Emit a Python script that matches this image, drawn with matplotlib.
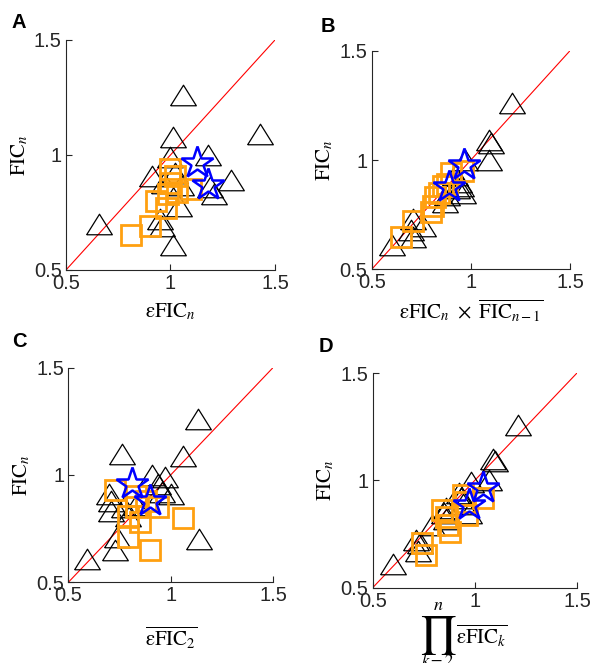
import numpy as np
import matplotlib
matplotlib.use('Agg')
import matplotlib.pyplot as plt

plt.rcParams['mathtext.fontset'] = 'stix'
plt.rcParams['font.family'] = ['Liberation Sans', 'DejaVu Sans']

# FIC_n (y) against the four predictors (x); one set per panel
tri_A = [(0.66, 0.70), (1.06, 1.26), (1.01, 1.08), (1.43, 1.09), (1.00, 0.99), (1.18, 1.00),
         (0.91, 0.91), (1.29, 0.89), (1.02, 0.92), (1.21, 0.83), (1.19, 0.86), (1.04, 0.78),
         (0.95, 0.72), (0.96, 0.69), (1.01, 0.61), (0.97, 0.88), (1.05, 0.87)]
sq_A = [(0.81, 0.65), (0.90, 0.69), (0.93, 0.80), (0.98, 0.77), (0.99, 0.83), (1.00, 0.88),
        (1.00, 0.94), (1.02, 0.91), (1.10, 0.85), (1.03, 0.84)]
star_A = [(1.125, 0.965), (1.18, 0.87)]

tri_B = [(1.21, 1.26), (1.09, 1.09), (1.10, 1.08), (1.09, 1.00), (0.97, 1.00), (0.60, 0.61),
         (0.70, 0.68), (0.76, 0.70), (0.71, 0.73), (0.71, 0.65), (0.94, 0.90), (0.95, 0.88),
         (0.87, 0.81), (0.88, 0.84), (0.96, 0.85), (0.92, 0.93), (0.93, 0.87)]
sq_B = [(0.65, 0.65), (0.71, 0.72), (0.80, 0.76), (0.81, 0.79), (0.82, 0.83), (0.84, 0.85),
        (0.86, 0.88), (0.90, 0.94), (0.96, 0.95), (0.88, 0.89)]
star_B = [(0.965, 0.975), (0.89, 0.875)]

tri_C = [(1.135, 1.26), (0.76, 1.10), (1.06, 1.09), (0.59, 0.61), (1.14, 0.70), (0.91, 1.00),
         (0.97, 0.99), (0.94, 0.96), (1.00, 0.91), (0.96, 0.92), (0.70, 0.91), (0.71, 0.88),
         (0.71, 0.83), (0.77, 0.85), (0.83, 0.86), (0.74, 0.71), (0.73, 0.65), (0.79, 0.81)]
sq_C = [(0.73, 0.93), (0.83, 0.90), (0.94, 0.85), (1.06, 0.80), (0.85, 0.78), (0.79, 0.81),
        (0.79, 0.71), (0.90, 0.65), (0.83, 0.85), (0.88, 0.88)]
star_C = [(0.81, 0.96), (0.90, 0.88)]

tri_D = [(1.21, 1.26), (1.09, 1.10), (1.10, 1.09), (1.07, 1.00), (0.98, 0.99), (0.60, 0.61),
         (0.71, 0.72), (0.73, 0.71), (0.72, 0.67), (0.93, 0.92), (0.94, 0.89), (0.86, 0.87),
         (0.85, 0.85), (0.86, 0.82), (0.97, 0.85), (0.92, 0.94), (0.79, 0.79)]
sq_D = [(0.74, 0.71), (0.76, 0.65), (0.84, 0.86), (0.86, 0.83), (0.87, 0.79), (0.88, 0.76),
        (0.94, 0.93), (0.96, 0.84), (1.04, 0.92), (0.95, 0.90)]
star_D = [(1.04, 0.965), (0.97, 0.885)]

panels = [
    ('A', tri_A, sq_A, star_A, r'$\mathrm{\varepsilon FIC}_n$'),
    ('B', tri_B, sq_B, star_B, r'$\mathrm{\varepsilon FIC}_n\ \times\ \overline{\mathrm{FIC}_{n-1}}$'),
    ('C', tri_C, sq_C, star_C, r'$\overline{\mathrm{\varepsilon FIC}_2}$'),
    ('D', tri_D, sq_D, star_D, None),
]

# axes rectangles in figure fractions
rects = [[0.1113, 0.5928, 0.3524, 0.3469],
         [0.6268, 0.5938, 0.3344, 0.3297],
         [0.1152, 0.1217, 0.3452, 0.3238],
         [0.6285, 0.1136, 0.3445, 0.3238]]
letter_pos = [(0.020, 0.980), (0.540, 0.975), (0.020, 0.499), (0.538, 0.492)]
xlab_pad = [6, 4, 14, 2]

tri_marker = [(-1, -0.8), (1, -0.8), (0, 0.8), (-1, -0.8)]
ax_col = (0.15, 0.15, 0.15)

fig = plt.figure(figsize=(5.93, 6.63), dpi=100)
for (lab, tri, sq, st, xl), r, lp, pad in zip(panels, rects, letter_pos, xlab_pad):
    ax = fig.add_axes(r)
    ax.plot([0.5, 1.5], [0.5, 1.5], color='red', lw=0.8, zorder=1)
    t = np.array(tri)
    s = np.array(sq)
    p = np.array(st)
    ax.plot(t[:, 0], t[:, 1], ls='none', marker=tri_marker, ms=18.5, mfc='none',
            mec='black', mew=0.9, zorder=2)
    ax.plot(s[:, 0], s[:, 1], ls='none', marker='s', ms=15, mfc='none',
            mec='#FFA010', mew=2.0, zorder=3)
    ax.plot(p[:, 0], p[:, 1], ls='none', marker='*', ms=24, mfc='none',
            mec='#0000FF', mew=1.8, zorder=4)
    ax.set_xlim(0.5, 1.5)
    ax.set_ylim(0.5, 1.5)
    ax.set_xticks([0.5, 1, 1.5])
    ax.set_yticks([0.5, 1, 1.5])
    ax.set_xticklabels(['0.5', '1', '1.5'])
    ax.set_yticklabels(['0.5', '1', '1.5'])
    for side in ['top', 'right']:
        ax.spines[side].set_visible(False)
    for side in ['left', 'bottom']:
        ax.spines[side].set_color(ax_col)
        ax.spines[side].set_linewidth(0.8)
    ax.tick_params(direction='in', length=4, width=0.8, color=ax_col,
                   labelsize=14.5, labelcolor=ax_col, pad=3)
    ax.set_ylabel(r'$\mathrm{FIC}_n$', fontsize=15, labelpad=3)
    if xl is not None:
        ax.set_xlabel(xl, fontsize=15, labelpad=pad)
    fig.text(lp[0], lp[1], lab, fontsize=14.5, fontweight='bold', va='top', ha='left')

# panel D x label: large product sign with limits, built from pieces
W, H = 593.0, 663.0
fig.text(438 / W, 1 - 645 / H, '\u220f', family='STIXGeneral', fontsize=27,
         ha='center', va='baseline')
fig.text(438 / W, 1 - 606 / H, r'$n$', fontsize=13, ha='center', va='center')
fig.text(438 / W, 1 - 661 / H, r'$k=2$', fontsize=12, ha='center', va='center')
fig.text(456 / W, 1 - 636 / H, r'$\overline{\mathrm{\varepsilon FIC}_k}$', fontsize=15,
         ha='left', va='center')

fig.savefig('out.png', dpi=100)
